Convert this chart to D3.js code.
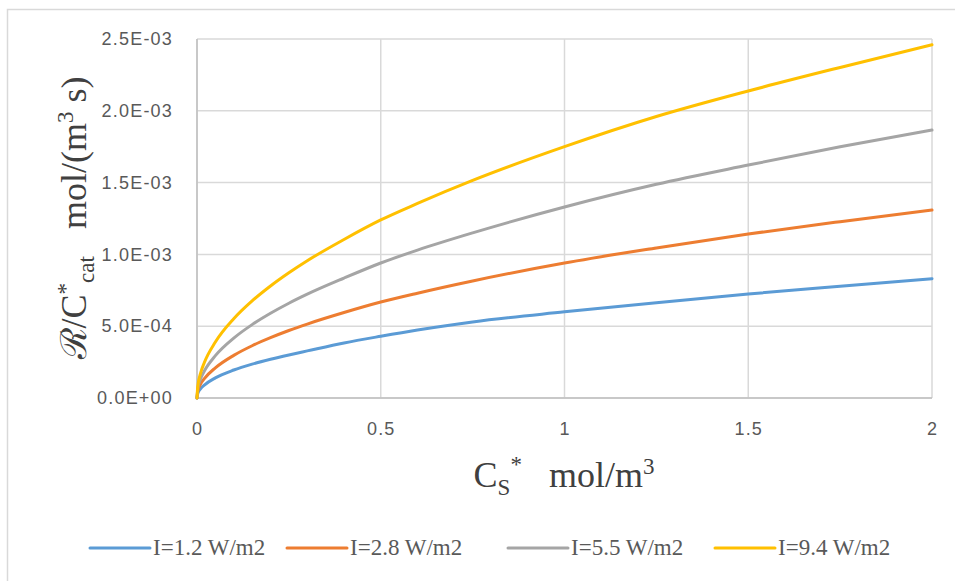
<!DOCTYPE html>
<html><head><meta charset="utf-8">
<script src="https://cdn.jsdelivr.net/npm/d3@7"></script>
<style>
body{margin:0;background:#fff;}
svg{display:block;}
</style></head>
<body>
<svg id="c" width="955" height="581"></svg>
<script>
// ---- data ----
const xValues = [0, 0.002, 0.01, 0.02, 0.05, 0.1, 0.15, 0.2, 0.25, 0.3, 0.4, 0.5, 0.6, 0.75, 1, 1.25, 1.5, 1.75, 2];
const seriesNames = ["I=1.2 W/m2", "I=2.8 W/m2", "I=5.5 W/m2", "I=9.4 W/m2"];
const blueVals   = [0, 0.030, 0.065, 0.090, 0.140, 0.195, 0.236, 0.270, 0.300, 0.328, 0.383, 0.430, 0.474, 0.530, 0.600, 0.664, 0.724, 0.778, 0.831].map(v => v * 1e-3);
const orangeVals = [0, 0.045, 0.098, 0.135, 0.210, 0.297, 0.364, 0.420, 0.470, 0.515, 0.595, 0.668, 0.730, 0.815, 0.940, 1.045, 1.142, 1.228, 1.309].map(v => v * 1e-3);
const grayVals   = [0, 0.062, 0.135, 0.188, 0.295, 0.417, 0.511, 0.590, 0.660, 0.723, 0.835, 0.940, 1.030, 1.150, 1.330, 1.488, 1.622, 1.750, 1.866].map(v => v * 1e-3);
const yellowVals = [0, 0.080, 0.175, 0.247, 0.390, 0.552, 0.676, 0.780, 0.872, 0.956, 1.104, 1.240, 1.355, 1.515, 1.750, 1.960, 2.138, 2.302, 2.460].map(v => v * 1e-3);
const seriesColors = ["#5B9BD5", "#ED7D31", "#A5A5A5", "#FFC000"];
const xTicks = [0, 0.5, 1, 1.5, 2];
const xTickLabels = ["0", "0.5", "1", "1.5", "2"];
const yTicks = [0, 0.0005, 0.001, 0.0015, 0.002, 0.0025];
const yTickLabels = ["0.0E+00", "5.0E-04", "1.0E-03", "1.5E-03", "2.0E-03", "2.5E-03"];

const allSeries = [blueVals, orangeVals, grayVals, yellowVals];

const svg = d3.select("#c");
// outer chart frame (cropped at right/bottom)
svg.append("rect").attr("x", 7.5).attr("y", 9.5).attr("width", 1000).attr("height", 1000)
  .attr("fill", "none").attr("stroke", "#d9d9d9").attr("stroke-width", 1.5);

const pL = 197, pR = 932, pT = 39, pB = 398;
const x = d3.scaleLinear().domain([0, 2]).range([pL, pR]);
const y = d3.scaleLinear().domain([0, 0.0025]).range([pB, pT]);

// gridlines
const g = svg.append("g");
g.selectAll(".hg").data(yTicks).enter().append("line")
  .attr("x1", pL).attr("x2", pR).attr("y1", d => y(d)).attr("y2", d => y(d))
  .attr("stroke", "#d9d9d9").attr("stroke-width", 1.5);
g.selectAll(".vg").data(xTicks).enter().append("line")
  .attr("y1", pT).attr("y2", pB).attr("x1", d => x(d)).attr("x2", d => x(d))
  .attr("stroke", "#d9d9d9").attr("stroke-width", 1.5);
// axis lines
g.append("line").attr("x1", pL).attr("x2", pL).attr("y1", pT).attr("y2", pB).attr("stroke", "#bfbfbf").attr("stroke-width", 1.5);
g.append("line").attr("x1", pL).attr("x2", pR).attr("y1", pB).attr("y2", pB).attr("stroke", "#bfbfbf").attr("stroke-width", 1.5);

// tick labels via axes
const yAxis = d3.axisLeft(y).tickValues(yTicks).tickSize(0).tickPadding(24)
  .tickFormat((d, i) => yTickLabels[i]);
const ya = svg.append("g").attr("transform", `translate(${pL},0)`).call(yAxis);
ya.select(".domain").remove();
ya.selectAll("text").attr("fill", "#595959").style("font-family", "'Liberation Sans', Arial, sans-serif")
  .style("font-size", "18px").style("letter-spacing", "1.2px");

const xAxis = d3.axisBottom(x).tickValues(xTicks).tickSize(0).tickPadding(24)
  .tickFormat((d, i) => xTickLabels[i]);
const xa = svg.append("g").attr("transform", `translate(0,${pB})`).call(xAxis);
xa.select(".domain").remove();
xa.selectAll("text").attr("fill", "#595959").style("font-family", "'Liberation Sans', Arial, sans-serif")
  .style("font-size", "18px").style("letter-spacing", "1.2px");

// lines
const line = d3.line().x((d, i) => x(xValues[i])).y(d => y(d)).curve(d3.curveMonotoneX);
svg.append("g").selectAll("path").data(allSeries).enter().append("path")
  .attr("d", d => line(d)).attr("fill", "none")
  .attr("stroke", (d, i) => seriesColors[i]).attr("stroke-width", 3)
  .attr("stroke-linejoin", "round").attr("stroke-linecap", "round");

// x title
const xt = svg.append("text").attr("x", 564).attr("y", 487).attr("text-anchor", "middle")
  .attr("fill", "#404040").style("font-family", "'Liberation Serif', 'Times New Roman', serif").style("font-size", "36px");
xt.append("tspan").text("C");
xt.append("tspan").attr("dy", 8).style("font-size", "23px").text("S");
xt.append("tspan").attr("dy", -23).style("font-size", "23px").text("*");
xt.append("tspan").attr("dy", 15).text("\u00a0\u00a0 mol/m");
xt.append("tspan").attr("dy", -13).style("font-size", "23px").text("3");

// y title
const yt = svg.append("text").attr("transform", "translate(86,218) rotate(-90)").attr("text-anchor", "middle")
  .attr("fill", "#404040").style("font-family", "'Liberation Serif', 'Times New Roman', serif").style("font-size", "36px");
yt.append("tspan").text("\u211B/C");
yt.append("tspan").attr("dy", -13).style("font-size", "23px").text("*");
yt.append("tspan").attr("dy", 21).style("font-size", "23px").text("cat");
yt.append("tspan").attr("dy", -8).text("\u00a0\u00a0 mol/(m");
yt.append("tspan").attr("dy", -13).style("font-size", "23px").text("3");
yt.append("tspan").attr("dy", 13).text(" s)");

// legend
const legX = [90, 287, 508, 715];
const leg = svg.append("g").selectAll("g").data(seriesNames).enter().append("g")
  .attr("transform", (d, i) => `translate(${legX[i]},548)`);
leg.append("line").attr("x1", 0).attr("x2", 60).attr("y1", 0).attr("y2", 0)
  .attr("stroke", (d, i) => seriesColors[i]).attr("stroke-width", 3).attr("stroke-linecap", "round");
leg.append("text").attr("x", 63).attr("y", 7).attr("fill", "#595959")
  .style("font-family", "'Liberation Serif', 'Times New Roman', serif").style("font-size", "23px")
  .text(d => d);
</script>
</body></html>
